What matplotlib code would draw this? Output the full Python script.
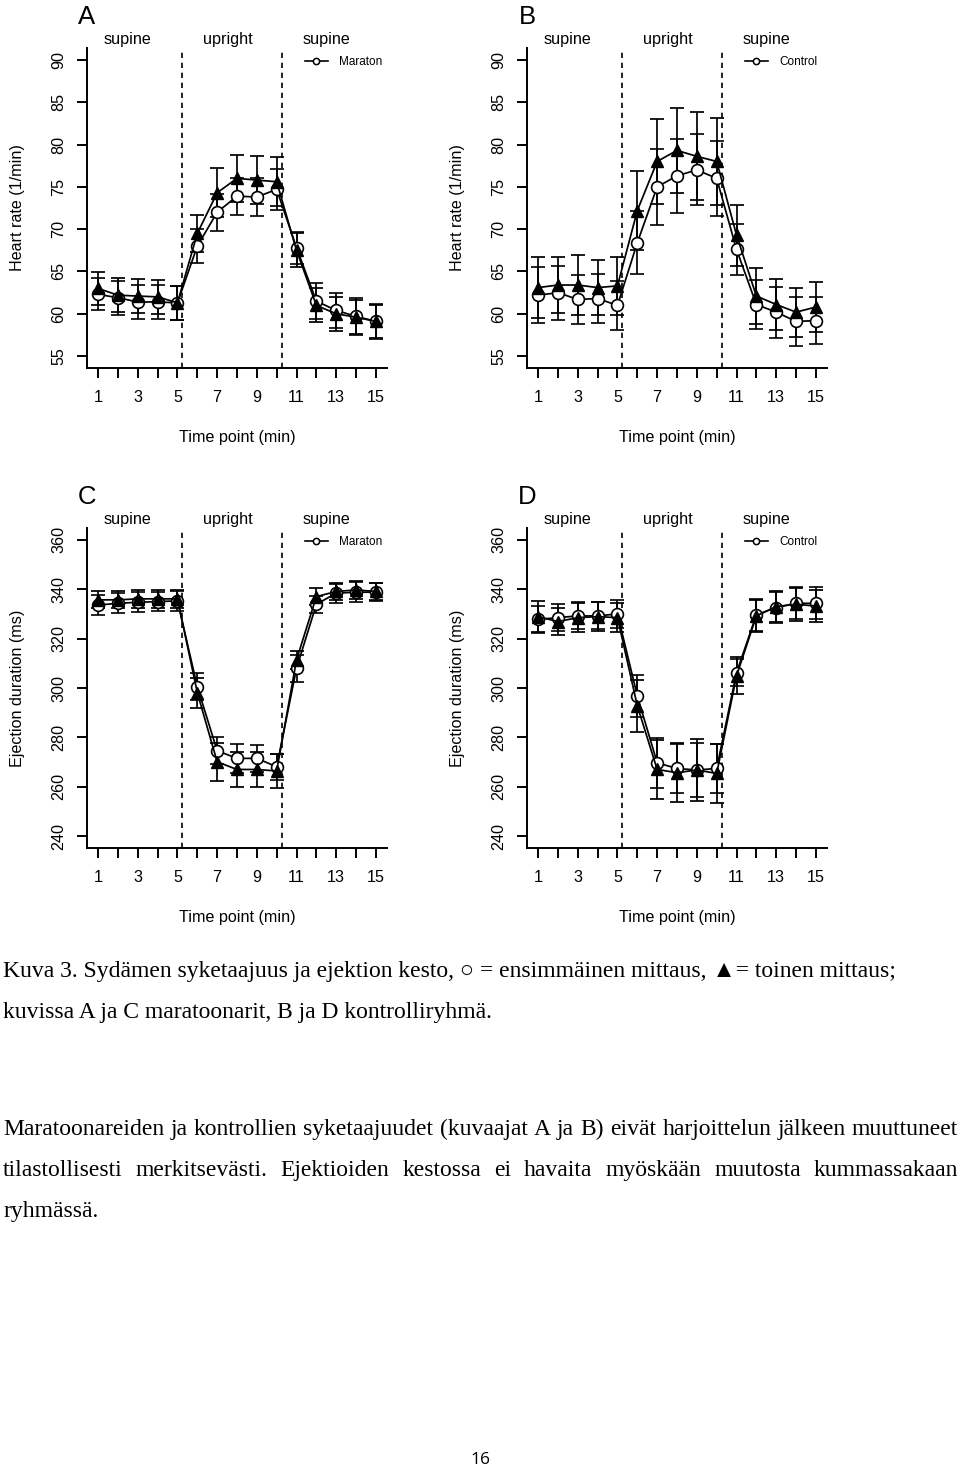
import matplotlib
matplotlib.use('Agg')
import matplotlib.pyplot as plt
import matplotlib.transforms as mtransforms
from matplotlib.lines import Line2D

# aikapisteet (min)
time = list(range(1, 16))

# A: syke, maratoonarit (o = 1. mittaus, ^ = 2. mittaus)
hr_mar_1 = [62.3, 61.9, 61.4, 61.4, 61.3, 68.0, 72.0, 73.9, 73.8, 74.7, 67.8, 61.5, 60.4, 59.7, 59.1]
hr_mar_1_se = [1.9, 2.0, 2.0, 2.0, 2.0, 2.0, 2.2, 2.2, 2.3, 2.4, 1.9, 2.1, 2.1, 2.2, 2.1]
hr_mar_2 = [63.0, 62.2, 62.1, 62.0, 61.3, 69.5, 74.3, 76.0, 75.8, 75.6, 67.5, 61.0, 60.0, 59.6, 59.1]
hr_mar_2_se = [1.9, 2.0, 2.0, 2.0, 2.0, 2.2, 2.9, 2.8, 2.8, 2.9, 2.0, 2.0, 2.0, 2.0, 2.0]

# B: syke, kontrollit
hr_con_1 = [62.2, 62.5, 61.7, 61.8, 61.0, 68.4, 75.0, 76.3, 77.0, 76.0, 67.6, 61.1, 60.2, 59.1, 59.2]
hr_con_1_se = [3.3, 3.2, 2.9, 2.9, 2.9, 3.7, 4.5, 4.4, 4.2, 4.4, 3.0, 2.9, 3.0, 2.9, 2.8]
hr_con_2 = [63.1, 63.4, 63.4, 63.1, 63.3, 72.2, 78.0, 79.3, 78.6, 78.0, 69.3, 62.1, 61.1, 60.2, 60.8]
hr_con_2_se = [3.6, 3.3, 3.5, 3.2, 3.4, 4.7, 5.0, 5.0, 5.2, 5.1, 3.6, 3.3, 3.0, 2.9, 3.0]

# C: ejektion kesto, maratoonarit
ed_mar_1 = [333.6, 334.3, 334.7, 335.0, 335.3, 300.5, 274.6, 271.5, 271.5, 268.1, 308.0, 333.9, 338.4, 338.8, 338.8]
ed_mar_1_se = [4.0, 4.0, 4.0, 4.0, 4.0, 5.5, 5.5, 5.8, 5.5, 5.3, 5.4, 3.5, 3.8, 4.0, 3.7]
ed_mar_2 = [335.7, 335.7, 336.1, 336.1, 336.1, 298.1, 270.1, 267.0, 267.0, 266.4, 311.4, 337.0, 339.1, 339.7, 339.1]
ed_mar_2_se = [3.5, 3.5, 3.5, 3.5, 3.5, 6.0, 7.8, 7.0, 7.0, 7.0, 3.7, 3.3, 3.3, 3.5, 3.5]

# D: ejektion kesto, kontrollit
ed_con_1 = [327.8, 328.5, 329.2, 329.2, 330.0, 296.8, 269.7, 267.4, 266.8, 267.4, 306.2, 329.6, 332.6, 334.3, 334.3]
ed_con_1_se = [5.5, 5.5, 5.5, 5.5, 5.5, 8.5, 10.0, 10.0, 11.0, 10.0, 5.5, 6.5, 6.4, 6.5, 6.5]
ed_con_2 = [328.9, 326.9, 328.5, 328.9, 328.5, 292.8, 267.0, 265.7, 266.8, 265.4, 304.9, 329.2, 333.0, 333.9, 333.2]
ed_con_2_se = [6.3, 5.5, 6.0, 6.0, 6.0, 10.5, 12.0, 12.0, 12.5, 12.0, 7.5, 6.5, 6.4, 6.8, 6.5]

hr_ticks = [55, 60, 65, 70, 75, 80, 85, 90]
ed_ticks = [240, 260, 280, 300, 320, 340, 360]
phases = ['supine', 'upright', 'supine']
phase_x = [2.5, 7.55, 12.5]
phase_change = [5.25, 10.25]

caption = ['Kuva 3. Sydämen syketaajuus ja ejektion kesto, \u25cb = ensimmäinen mittaus, \u25b2= toinen mittaus;',
           'kuvissa A ja C maratoonarit, B ja D kontrolliryhmä.']
body = ['Maratoonareiden ja kontrollien syketaajuudet (kuvaajat A ja B) eivät harjoittelun jälkeen muuttuneet',
        'tilastollisesti merkitsevästi. Ejektioiden kestossa ei havaita myöskään muutosta kummassakaan',
        'ryhmässä.']

W, H = 960, 1471
sans = ['Liberation Sans', 'DejaVu Sans']
serif = ['Liberation Serif', 'DejaVu Serif']
plt.rcParams['font.family'] = sans

fig = plt.figure(figsize=(W / 100, H / 100), dpi=100)
fs = 11.6


def panel(left, top, letter, s1, e1, s2, e2, ticks, ylab, group):
    ax = fig.add_axes([left / W, 1 - (top + 320) / H, 300 / W, 320 / H])
    ax.errorbar(time, s1, yerr=e1, fmt='-o', color='k', mfc='white', mec='k', ms=8.5, mew=1.2,
                lw=1.25, elinewidth=1.25, capsize=5, capthick=1.25)
    ax.errorbar(time, s2, yerr=e2, fmt='-^', color='k', mfc='k', mec='k', ms=8.5,
                lw=1.25, elinewidth=1.25, capsize=5, capthick=1.25)
    rng = ticks[-1] - ticks[0]
    ax.set_ylim(ticks[0] - 0.04 * rng, ticks[-1] + 0.04 * rng)
    ax.set_xlim(0.44, 15.56)
    for x in phase_change:
        ax.axvline(x, ymin=0, ymax=0.99, color='k', lw=1.2, ls=(0, (3.2, 2.8)))
    ax.set_xticks(time)
    ax.set_xticklabels([str(t) if t % 2 else '' for t in time])
    ax.set_yticks(ticks)
    ax.set_yticklabels([str(t) for t in ticks])
    for sp in ['top', 'right']:
        ax.spines[sp].set_visible(False)
    for sp in ['left', 'bottom']:
        ax.spines[sp].set_linewidth(1.4)
    ax.tick_params(axis='x', length=7.5, width=1.4, pad=8, labelsize=fs)
    ax.tick_params(axis='y', length=7, width=1.4, pad=8, labelsize=fs, labelrotation=90)
    for lbl in ax.get_yticklabels():
        lbl.set_va('center')
    ax.set_xlabel('Time point (min)', fontsize=fs)
    ax.xaxis.set_label_coords(0.5, -0.218)
    ax.xaxis.label.set_va('center')
    ax.set_ylabel(ylab, fontsize=fs)
    ax.yaxis.set_label_coords(-0.233, 0.5)
    ax.yaxis.label.set_va('center')
    trans = mtransforms.blended_transform_factory(ax.transData, ax.transAxes)
    for name, x in zip(phases, phase_x):
        ax.text(x, 1.028, name, transform=trans, ha='center', va='center', fontsize=fs)
    ax.text(0.0, 1.098, letter, transform=ax.transAxes, ha='center', va='center', fontsize=18.5)
    handle = Line2D([], [], color='k', lw=1.2, marker='o', ms=4.5, mfc='white', mec='k', mew=1.1)
    ax.legend([handle], [group], loc='center left', bbox_to_anchor=(0.727, 0.956), frameon=False,
              fontsize=8.5, handlelength=1.9, handletextpad=1.0, borderpad=0, borderaxespad=0)
    return ax


panel(87, 48, 'A', hr_mar_1, hr_mar_1_se, hr_mar_2, hr_mar_2_se, hr_ticks, 'Heart rate (1/min)', 'Maraton')
panel(527, 48, 'B', hr_con_1, hr_con_1_se, hr_con_2, hr_con_2_se, hr_ticks, 'Heart rate (1/min)', 'Control')
panel(87, 528, 'C', ed_mar_1, ed_mar_1_se, ed_mar_2, ed_mar_2_se, ed_ticks, 'Ejection duration (ms)', 'Maraton')
panel(527, 528, 'D', ed_con_1, ed_con_1_se, ed_con_2, ed_con_2_se, ed_ticks, 'Ejection duration (ms)', 'Control')

# tekstin koko: kuvatekstin 1. rivi on n. 895 px leveä
r = fig.canvas.get_renderer()
probe = fig.text(0, 0, caption[0], fontsize=17, family=serif)
size = 17 * 895 / probe.get_window_extent(r).width
probe.remove()

for line, yb in zip(caption, [977, 1018]):
    fig.text(3 / W, 1 - yb / H, line, fontsize=size, family=serif, va='baseline')


def justify(line, x0, x1, yb):
    words = line.split()
    texts = [fig.text(0, 1 - yb / H, w, fontsize=size, family=serif, va='baseline') for w in words]
    widths = [t.get_window_extent(r).width for t in texts]
    gap = (x1 - x0 - sum(widths)) / (len(words) - 1)
    x = x0
    for t, w in zip(texts, widths):
        t.set_x(x / W)
        x += w + gap


justify(body[0], 3, 958, 1135)
justify(body[1], 3, 958, 1176)
fig.text(3 / W, 1 - 1217 / H, body[2], fontsize=size, family=serif, va='baseline')

fig.text(480 / W, 1 - 1460 / H, '16', ha='center', va='center', fontsize=12.5, family=['Open Sans', 'DejaVu Sans'])

fig.savefig('out.png', dpi=100)
